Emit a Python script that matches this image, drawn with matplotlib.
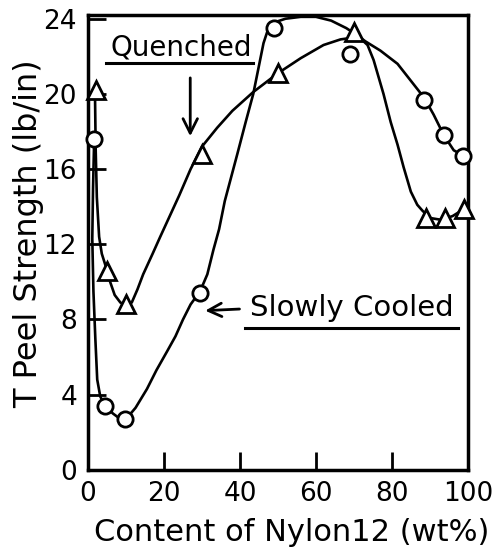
import matplotlib.pyplot as plt

# measured points (markers)
quenched_x = [2, 5, 10, 30, 50, 70, 89, 94, 99]
quenched_y = [20.2, 10.6, 8.8, 16.8, 21.1, 23.3, 13.4, 13.4, 13.9]
cooled_x = [1.6, 4.5, 9.6, 29.5, 49, 69, 88.5, 93.7, 98.8]
cooled_y = [17.6, 3.4, 2.7, 9.4, 23.5, 22.1, 19.7, 17.8, 16.7]

# hand drawn curves
quenched_curve_x = [1.8, 2.0, 2.3, 2.9, 3.6, 5.0, 5.8, 7.0, 8.5, 10, 11.5, 13, 14.5, 17, 19,
                    21.5, 24, 27, 30, 34, 38, 43.5, 50, 56, 62, 66.5, 70, 72, 73.6, 75.2,
                    77.8, 79.7, 81.5, 83.1, 85, 86.7, 88, 90, 93, 96, 100]
quenched_curve_y = [20.2, 17, 14.5, 12.4, 11.5, 10.6, 10.0, 9.3, 8.9, 8.75, 8.9, 9.6, 10.4,
                    11.5, 12.4, 13.5, 14.6, 16, 17.2, 18.2, 19.1, 20.1, 21.1, 21.9, 22.6,
                    22.9, 23.0, 22.9, 22.6, 21.8, 20.0, 18.5, 17.3, 16.1, 14.8, 14.1, 13.8,
                    13.4, 13.3, 13.5, 14.0]
cooled_curve_x = [1.6, 1.3, 1.1, 1.4, 1.9, 2.4, 3.2, 4.5, 6.5, 8.5, 10, 12.5, 15.5, 18, 20.8,
                  23, 25, 27, 29.5, 31.4, 33, 34.5, 36, 39.3, 41.5, 43.5, 45, 46.2, 47.5, 49,
                  52, 56, 60, 64, 68, 71, 73, 77, 81.5, 85, 88.5, 91, 93.7, 96.3, 99]
cooled_curve_y = [17.6, 15, 12.3, 9.5, 7, 4.8, 3.9, 3.4, 3.0, 2.7, 2.7, 3.3, 4.3, 5.3, 6.3,
                  7.1, 8.0, 8.8, 9.5, 10.4, 11.7, 12.8, 14.3, 16.8, 18.5, 20.0, 21.5, 22.7,
                  23.5, 23.8, 24.0, 24.1, 24.1, 23.9, 23.5, 23.1, 22.8, 22.3, 21.6, 20.7,
                  19.8, 18.9, 17.8, 17.0, 16.7]

x_ticks = [0, 20, 40, 60, 80, 100]
y_ticks = [0, 4, 8, 12, 16, 20, 24]

fig = plt.figure(figsize=(4.95, 5.54), dpi=100)
ax = fig.add_axes([0.178, 0.152, 0.767, 0.821])

line_kw = dict(color='black', lw=1.9, solid_joinstyle='round', solid_capstyle='round')
ax.plot(quenched_curve_x, quenched_curve_y, zorder=2, **line_kw)
ax.plot(cooled_curve_x, cooled_curve_y, zorder=2, **line_kw)
ax.plot(quenched_x, quenched_y, linestyle='none', marker='^', ms=13, mfc='white',
        mec='black', mew=2, zorder=3, clip_on=False)
ax.plot(cooled_x, cooled_y, linestyle='none', marker='o', ms=11, mfc='white',
        mec='black', mew=2, zorder=3, clip_on=False)

ax.set_xlim(0, 100)
ax.set_ylim(0, 24.2)
ax.set_xticks(x_ticks)
ax.set_yticks(y_ticks)
ax.tick_params(direction='in', length=13, width=2, labelsize=19, pad=8)
for s in ax.spines.values():
    s.set_linewidth(2.5)

ax.set_xlabel('Content of Nylon12 (wt%)', fontsize=22)
ax.xaxis.set_label_coords(0.535, -0.105)
ax.set_ylabel('T Peel Strength (lb/in)', fontsize=23)
ax.yaxis.set_label_coords(-0.115, 0.52)

# labels with arrows
ax.text(24.5, 22.45, 'Quenched', fontsize=20, ha='center', va='center')
ax.plot([4.7, 43.5], [21.65, 21.65], color='black', lw=2.2)
ax.annotate('', xy=(26.9, 17.6), xytext=(26.9, 21.0),
            arrowprops=dict(arrowstyle='->', color='black', lw=2, mutation_scale=26))

ax.text(69.4, 8.6, 'Slowly Cooled', fontsize=21, ha='center', va='center')
ax.plot([41.4, 97.4], [7.55, 7.55], color='black', lw=2.2)
ax.annotate('', xy=(30.1, 8.46), xytext=(40.6, 8.56),
            arrowprops=dict(arrowstyle='->', color='black', lw=2, mutation_scale=24))

fig.savefig('out.png', dpi=100)
